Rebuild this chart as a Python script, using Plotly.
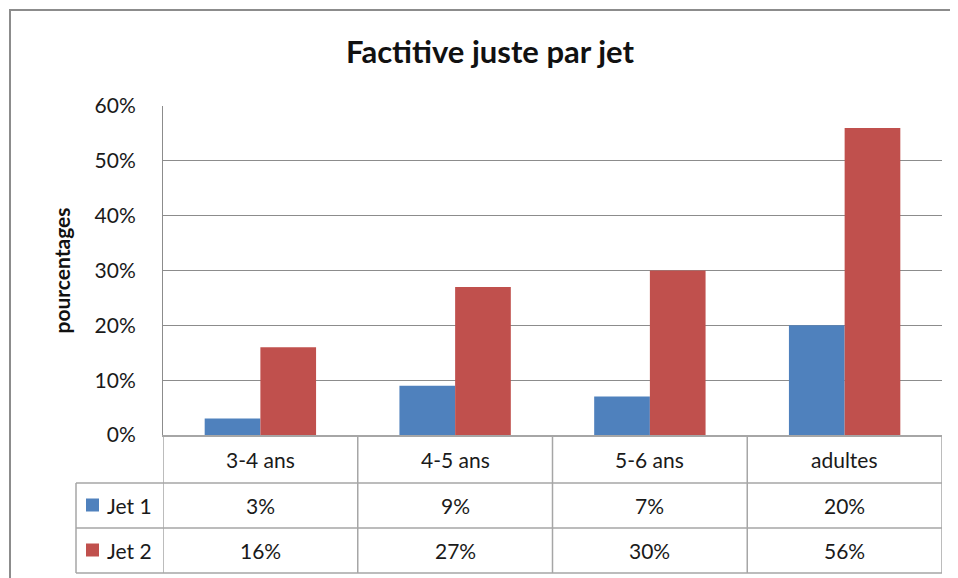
import plotly.graph_objects as go

categories = ["3-4 ans", "4-5 ans", "5-6 ans", "adultes"]
series_names = ["Jet 1", "Jet 2"]
jet1 = [3, 9, 7, 20]
jet2 = [16, 27, 30, 56]
series_values = [jet1, jet2]
colors = ["#4F81BD", "#C0504D"]
title_text = "Factitive juste par jet"
y_title = "pourcentages"

OFF = 8  # page body margin
W, H = 950, 570
FONT = "Lato"
GRID = "#8C8C8C"
TABLE_LINE = "#A6A6A6"


def px(x):
    return (x - OFF) / W


def py(y):
    return 1 - (y - OFF) / H


# layout geometry (screen pixels)
PL, PR, PT, PB = 163, 942, 106, 435
ROW_HDR_B, ROW1_B, ROW2_B = 483, 528, 573
LEG_L = 76

fig = go.Figure()
for name, vals, col in zip(series_names, series_values, colors):
    fig.add_trace(go.Bar(x=categories, y=vals, name=name, marker=dict(color=col, line=dict(width=0)),
                         showlegend=False))

shapes = []
# outer chart border
shapes.append(dict(type="rect", xref="paper", yref="paper", x0=px(10), x1=px(975), y0=py(10), y1=py(595),
                   line=dict(color="#8C8C8C", width=2), fillcolor="rgba(0,0,0,0)", layer="below"))
# table horizontal lines
for y in [ROW_HDR_B, ROW1_B, ROW2_B]:
    shapes.append(dict(type="line", xref="paper", yref="paper", x0=px(LEG_L), x1=px(PR), y0=py(y), y1=py(y),
                       line=dict(color=TABLE_LINE, width=1.5)))
# left border of legend column
shapes.append(dict(type="line", xref="paper", yref="paper", x0=px(LEG_L), x1=px(LEG_L), y0=py(ROW_HDR_B), y1=py(ROW2_B),
                   line=dict(color=TABLE_LINE, width=1.5)))
# vertical separators at category boundaries
for i in range(len(categories) + 1):
    shapes.append(dict(type="line", xref="x", yref="paper", x0=i - 0.5, x1=i - 0.5, y0=py(PB), y1=py(ROW2_B),
                       line=dict(color=TABLE_LINE, width=1.5)))

annotations = []
# header row: categories
for i, c in enumerate(categories):
    annotations.append(dict(text=c, x=i, xref="x", y=py((PB + ROW_HDR_B) / 2), yref="paper", showarrow=False,
                            xanchor="center", yanchor="middle", font=dict(family=FONT, size=21, color="#1a1a1a")))
# series rows
row_bounds = [(ROW_HDR_B, ROW1_B), (ROW1_B, ROW2_B)]
for (top, bot), name, vals, col in zip(row_bounds, series_names, series_values, colors):
    yc = (top + bot) / 2
    shapes.append(dict(type="rect", xref="paper", yref="paper", x0=px(86), x1=px(99), y0=py(yc - 7), y1=py(yc + 6),
                       fillcolor=col, line=dict(width=0)))
    annotations.append(dict(text=name, x=px(105), xref="paper", y=py(yc), yref="paper", showarrow=False,
                            xanchor="left", yanchor="middle", font=dict(family=FONT, size=21, color="#1a1a1a")))
    for i, v in enumerate(vals):
        annotations.append(dict(text=f"{v}%", x=i, xref="x", y=py(yc), yref="paper", showarrow=False,
                                xanchor="center", yanchor="middle", font=dict(family=FONT, size=21, color="#1a1a1a")))

fig.update_layout(
    width=W, height=H, autosize=False,
    margin=dict(l=0, r=0, t=0, b=0),
    paper_bgcolor="white", plot_bgcolor="white",
    barmode="group", bargap=0.428, bargroupgap=0,
    title=dict(text=title_text, x=px(490), y=py(52), xanchor="center", yanchor="middle",
               font=dict(family=FONT, size=31, color="#111", weight="bold")),
    xaxis=dict(domain=[px(PL), px(PR)], range=[-0.5, len(categories) - 0.5], showticklabels=False,
               showline=True, linecolor=TABLE_LINE, linewidth=1.5, showgrid=False, ticks="", automargin=False),
    yaxis=dict(domain=[py(PB), py(PT)], range=[0, 60], dtick=10, ticksuffix="%", showgrid=True,
               gridcolor=GRID, gridwidth=1, showline=True, linecolor=GRID, linewidth=1, zeroline=False,
               ticks="", ticklabelstandoff=22, automargin=False,
               tickfont=dict(family=FONT, size=21, color="#1a1a1a"),
               title=dict(text=y_title, standoff=18, font=dict(family=FONT, size=21, color="#111", weight="bold"))),
    shapes=shapes, annotations=annotations,
)

fig.write_html("out.html")
